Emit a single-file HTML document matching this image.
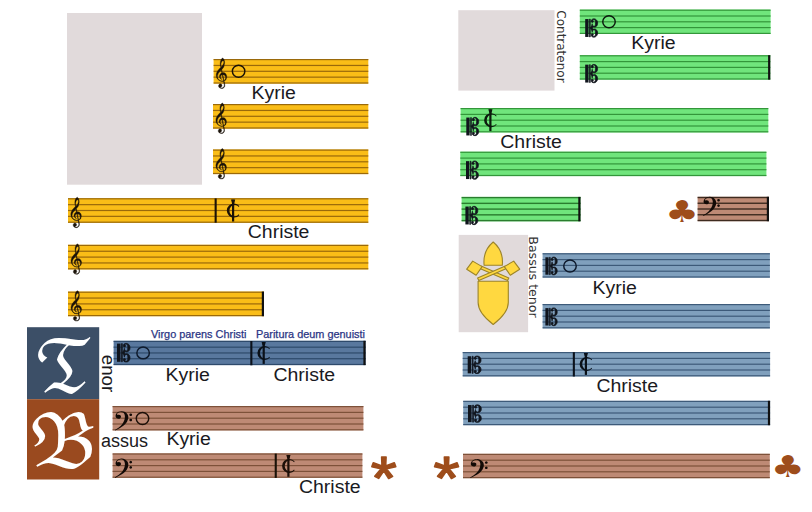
<!DOCTYPE html>
<html lang="la">
<head>
<meta charset="utf-8">
<title>Kyrie – Christe: Tenor, Bassus, Contratenor, Bassus tenor</title>
<style>
html,body{margin:0;padding:0;background:#fff;}
body{width:812px;height:512px;overflow:hidden;font-family:"Liberation Sans",sans-serif;}
svg{display:block;}
</style>
</head>
<body>
<svg width="812" height="512" viewBox="0 0 812 512">
<rect x="67" y="13" width="135" height="171.7" fill="#e1dadb"/>
<rect x="458.3" y="10.2" width="96.2" height="80.4" fill="#e1dadb"/>
<rect x="458.7" y="234.9" width="69.4" height="97.3" fill="#e1dadb"/>
<rect x="27" y="327.2" width="72.2" height="72" fill="#3c4f67"/>
<rect x="27" y="399.2" width="72.2" height="80.3" fill="#9a4a1f"/>
<rect x="213.6" y="59" width="154.7" height="24.6" fill="#fabd17"/>
<rect x="213.6" y="59.0" width="154.7" height="1.2" fill="#9a690a"/>
<rect x="213.6" y="64.85" width="154.7" height="1.2" fill="#9a690a"/>
<rect x="213.6" y="70.7" width="154.7" height="1.2" fill="#9a690a"/>
<rect x="213.6" y="76.55" width="154.7" height="1.2" fill="#9a690a"/>
<rect x="213.6" y="82.4" width="154.7" height="1.2" fill="#9a690a"/>
<path transform="translate(216.2,58.1)" d="M7.89 22.92Q8.64 25.6 8.64 27.31Q8.64 28.66 7.71 29.53Q6.78 30.4 5.45 30.4Q4.19 30.4 3.27 29.65Q2.34 28.89 2.34 27.82Q2.34 27.06 2.85 26.38Q3.37 25.7 4.11 25.7Q4.85 25.7 5.31 26.25Q5.78 26.8 5.78 27.52Q5.78 29.1 4.02 29.1Q4.47 29.81 5.48 29.81Q5.85 29.81 6.24 29.7Q6.63 29.58 7.06 29.3Q7.49 29.02 7.75 28.42Q8.01 27.82 8.01 26.98Q8.01 26.44 7.31 23.13Q6.76 23.28 5.93 23.28Q3.49 23.28 1.75 21.44Q0 19.6 0 17.05Q0 16.16 0.29 15.24Q0.58 14.32 0.94 13.62Q1.31 12.92 2.02 12.03Q2.74 11.15 3.23 10.63Q3.72 10.11 4.6 9.21Q4.02 7.12 4.02 5.39Q4.02 3.09 4.85 1.54Q5.68 0 6.51 0Q6.76 0 7.07 0.33Q7.38 0.66 7.69 1.25Q7.99 1.84 8.2 2.79Q8.41 3.75 8.41 4.85Q8.41 8.91 5.58 11.56L6.23 14.57Q6.63 14.5 6.96 14.5Q8.49 14.5 9.55 15.76Q10.6 17.03 10.6 18.84Q10.6 21.85 7.89 22.92ZM7.69 3.93Q7.69 2.53 6.88 2.53Q5.98 2.53 5.35 3.88Q4.72 5.23 4.72 6.89Q4.72 7.96 5.05 8.75Q6 8.17 6.84 6.65Q7.69 5.13 7.69 3.93ZM9.49 19.71Q9.49 18.3 8.69 17.46Q7.89 16.62 6.61 16.62L7.74 22.39Q9.49 21.65 9.49 19.71ZM7.21 22.54 6.05 16.67Q5.38 16.82 4.81 17.51Q4.25 18.2 4.25 18.94Q4.25 19.32 4.4 19.69Q4.55 20.06 4.76 20.32Q4.97 20.57 5.2 20.78Q5.43 20.98 5.58 21.07Q5.73 21.16 5.73 21.16L5.53 21.29Q4.7 21.06 3.96 20.27Q3.22 19.48 3.22 18.28Q3.22 17.08 3.96 16.07Q4.7 15.06 5.6 14.73L5.15 12Q1.21 15.34 1.21 18.45Q1.21 20.32 2.59 21.57Q3.97 22.82 5.73 22.82Q6.15 22.82 7.21 22.54Z" fill="#1a1208" stroke="#1a1208" stroke-width="0.35"/>
<ellipse cx="238.6" cy="71.2" rx="6.25" ry="5.95" fill="none" stroke="#1a1208" stroke-width="1.45"/>
<rect x="213" y="104" width="155.3" height="24.6" fill="#fabd17"/>
<rect x="213" y="104.0" width="155.3" height="1.2" fill="#9a690a"/>
<rect x="213" y="109.85" width="155.3" height="1.2" fill="#9a690a"/>
<rect x="213" y="115.7" width="155.3" height="1.2" fill="#9a690a"/>
<rect x="213" y="121.55" width="155.3" height="1.2" fill="#9a690a"/>
<rect x="213" y="127.4" width="155.3" height="1.2" fill="#9a690a"/>
<path transform="translate(215.9,103.1)" d="M7.89 22.92Q8.64 25.6 8.64 27.31Q8.64 28.66 7.71 29.53Q6.78 30.4 5.45 30.4Q4.19 30.4 3.27 29.65Q2.34 28.89 2.34 27.82Q2.34 27.06 2.85 26.38Q3.37 25.7 4.11 25.7Q4.85 25.7 5.31 26.25Q5.78 26.8 5.78 27.52Q5.78 29.1 4.02 29.1Q4.47 29.81 5.48 29.81Q5.85 29.81 6.24 29.7Q6.63 29.58 7.06 29.3Q7.49 29.02 7.75 28.42Q8.01 27.82 8.01 26.98Q8.01 26.44 7.31 23.13Q6.76 23.28 5.93 23.28Q3.49 23.28 1.75 21.44Q0 19.6 0 17.05Q0 16.16 0.29 15.24Q0.58 14.32 0.94 13.62Q1.31 12.92 2.02 12.03Q2.74 11.15 3.23 10.63Q3.72 10.11 4.6 9.21Q4.02 7.12 4.02 5.39Q4.02 3.09 4.85 1.54Q5.68 0 6.51 0Q6.76 0 7.07 0.33Q7.38 0.66 7.69 1.25Q7.99 1.84 8.2 2.79Q8.41 3.75 8.41 4.85Q8.41 8.91 5.58 11.56L6.23 14.57Q6.63 14.5 6.96 14.5Q8.49 14.5 9.55 15.76Q10.6 17.03 10.6 18.84Q10.6 21.85 7.89 22.92ZM7.69 3.93Q7.69 2.53 6.88 2.53Q5.98 2.53 5.35 3.88Q4.72 5.23 4.72 6.89Q4.72 7.96 5.05 8.75Q6 8.17 6.84 6.65Q7.69 5.13 7.69 3.93ZM9.49 19.71Q9.49 18.3 8.69 17.46Q7.89 16.62 6.61 16.62L7.74 22.39Q9.49 21.65 9.49 19.71ZM7.21 22.54 6.05 16.67Q5.38 16.82 4.81 17.51Q4.25 18.2 4.25 18.94Q4.25 19.32 4.4 19.69Q4.55 20.06 4.76 20.32Q4.97 20.57 5.2 20.78Q5.43 20.98 5.58 21.07Q5.73 21.16 5.73 21.16L5.53 21.29Q4.7 21.06 3.96 20.27Q3.22 19.48 3.22 18.28Q3.22 17.08 3.96 16.07Q4.7 15.06 5.6 14.73L5.15 12Q1.21 15.34 1.21 18.45Q1.21 20.32 2.59 21.57Q3.97 22.82 5.73 22.82Q6.15 22.82 7.21 22.54Z" fill="#1a1208" stroke="#1a1208" stroke-width="0.35"/>
<rect x="213" y="149.5" width="155.3" height="24.6" fill="#fabd17"/>
<rect x="213" y="149.5" width="155.3" height="1.2" fill="#9a690a"/>
<rect x="213" y="155.35" width="155.3" height="1.2" fill="#9a690a"/>
<rect x="213" y="161.2" width="155.3" height="1.2" fill="#9a690a"/>
<rect x="213" y="167.05" width="155.3" height="1.2" fill="#9a690a"/>
<rect x="213" y="172.9" width="155.3" height="1.2" fill="#9a690a"/>
<path transform="translate(215.9,148.6)" d="M7.89 22.92Q8.64 25.6 8.64 27.31Q8.64 28.66 7.71 29.53Q6.78 30.4 5.45 30.4Q4.19 30.4 3.27 29.65Q2.34 28.89 2.34 27.82Q2.34 27.06 2.85 26.38Q3.37 25.7 4.11 25.7Q4.85 25.7 5.31 26.25Q5.78 26.8 5.78 27.52Q5.78 29.1 4.02 29.1Q4.47 29.81 5.48 29.81Q5.85 29.81 6.24 29.7Q6.63 29.58 7.06 29.3Q7.49 29.02 7.75 28.42Q8.01 27.82 8.01 26.98Q8.01 26.44 7.31 23.13Q6.76 23.28 5.93 23.28Q3.49 23.28 1.75 21.44Q0 19.6 0 17.05Q0 16.16 0.29 15.24Q0.58 14.32 0.94 13.62Q1.31 12.92 2.02 12.03Q2.74 11.15 3.23 10.63Q3.72 10.11 4.6 9.21Q4.02 7.12 4.02 5.39Q4.02 3.09 4.85 1.54Q5.68 0 6.51 0Q6.76 0 7.07 0.33Q7.38 0.66 7.69 1.25Q7.99 1.84 8.2 2.79Q8.41 3.75 8.41 4.85Q8.41 8.91 5.58 11.56L6.23 14.57Q6.63 14.5 6.96 14.5Q8.49 14.5 9.55 15.76Q10.6 17.03 10.6 18.84Q10.6 21.85 7.89 22.92ZM7.69 3.93Q7.69 2.53 6.88 2.53Q5.98 2.53 5.35 3.88Q4.72 5.23 4.72 6.89Q4.72 7.96 5.05 8.75Q6 8.17 6.84 6.65Q7.69 5.13 7.69 3.93ZM9.49 19.71Q9.49 18.3 8.69 17.46Q7.89 16.62 6.61 16.62L7.74 22.39Q9.49 21.65 9.49 19.71ZM7.21 22.54 6.05 16.67Q5.38 16.82 4.81 17.51Q4.25 18.2 4.25 18.94Q4.25 19.32 4.4 19.69Q4.55 20.06 4.76 20.32Q4.97 20.57 5.2 20.78Q5.43 20.98 5.58 21.07Q5.73 21.16 5.73 21.16L5.53 21.29Q4.7 21.06 3.96 20.27Q3.22 19.48 3.22 18.28Q3.22 17.08 3.96 16.07Q4.7 15.06 5.6 14.73L5.15 12Q1.21 15.34 1.21 18.45Q1.21 20.32 2.59 21.57Q3.97 22.82 5.73 22.82Q6.15 22.82 7.21 22.54Z" fill="#1a1208" stroke="#1a1208" stroke-width="0.35"/>
<rect x="68" y="198.2" width="300.3" height="24.6" fill="#fabd17"/>
<rect x="68" y="198.2" width="300.3" height="1.2" fill="#9a690a"/>
<rect x="68" y="204.05" width="300.3" height="1.2" fill="#9a690a"/>
<rect x="68" y="209.9" width="300.3" height="1.2" fill="#9a690a"/>
<rect x="68" y="215.75" width="300.3" height="1.2" fill="#9a690a"/>
<rect x="68" y="221.6" width="300.3" height="1.2" fill="#9a690a"/>
<path transform="translate(70.8,197.3)" d="M7.89 22.92Q8.64 25.6 8.64 27.31Q8.64 28.66 7.71 29.53Q6.78 30.4 5.45 30.4Q4.19 30.4 3.27 29.65Q2.34 28.89 2.34 27.82Q2.34 27.06 2.85 26.38Q3.37 25.7 4.11 25.7Q4.85 25.7 5.31 26.25Q5.78 26.8 5.78 27.52Q5.78 29.1 4.02 29.1Q4.47 29.81 5.48 29.81Q5.85 29.81 6.24 29.7Q6.63 29.58 7.06 29.3Q7.49 29.02 7.75 28.42Q8.01 27.82 8.01 26.98Q8.01 26.44 7.31 23.13Q6.76 23.28 5.93 23.28Q3.49 23.28 1.75 21.44Q0 19.6 0 17.05Q0 16.16 0.29 15.24Q0.58 14.32 0.94 13.62Q1.31 12.92 2.02 12.03Q2.74 11.15 3.23 10.63Q3.72 10.11 4.6 9.21Q4.02 7.12 4.02 5.39Q4.02 3.09 4.85 1.54Q5.68 0 6.51 0Q6.76 0 7.07 0.33Q7.38 0.66 7.69 1.25Q7.99 1.84 8.2 2.79Q8.41 3.75 8.41 4.85Q8.41 8.91 5.58 11.56L6.23 14.57Q6.63 14.5 6.96 14.5Q8.49 14.5 9.55 15.76Q10.6 17.03 10.6 18.84Q10.6 21.85 7.89 22.92ZM7.69 3.93Q7.69 2.53 6.88 2.53Q5.98 2.53 5.35 3.88Q4.72 5.23 4.72 6.89Q4.72 7.96 5.05 8.75Q6 8.17 6.84 6.65Q7.69 5.13 7.69 3.93ZM9.49 19.71Q9.49 18.3 8.69 17.46Q7.89 16.62 6.61 16.62L7.74 22.39Q9.49 21.65 9.49 19.71ZM7.21 22.54 6.05 16.67Q5.38 16.82 4.81 17.51Q4.25 18.2 4.25 18.94Q4.25 19.32 4.4 19.69Q4.55 20.06 4.76 20.32Q4.97 20.57 5.2 20.78Q5.43 20.98 5.58 21.07Q5.73 21.16 5.73 21.16L5.53 21.29Q4.7 21.06 3.96 20.27Q3.22 19.48 3.22 18.28Q3.22 17.08 3.96 16.07Q4.7 15.06 5.6 14.73L5.15 12Q1.21 15.34 1.21 18.45Q1.21 20.32 2.59 21.57Q3.97 22.82 5.73 22.82Q6.15 22.82 7.21 22.54Z" fill="#1a1208" stroke="#1a1208" stroke-width="0.35"/>
<rect x="214.6" y="198.4" width="2.1" height="24.3" fill="#1a1208"/>
<g transform="translate(233.1,210.6)" fill="#1a1208"><rect x="-1.1" y="-10.8" width="2.2" height="21.7"/><path d="M-2.1,-11H2.1L1.1,-7.4H-1.1Z"/><path d="M6.2,-4.55A7.1,7 0 1 0 6.2,4.55L5.7,3.7A5.34,5.7 0 1 1 5.7,-3.7Z"/></g>
<rect x="68" y="244.8" width="300.3" height="24.6" fill="#fabd17"/>
<rect x="68" y="244.8" width="300.3" height="1.2" fill="#9a690a"/>
<rect x="68" y="250.65" width="300.3" height="1.2" fill="#9a690a"/>
<rect x="68" y="256.5" width="300.3" height="1.2" fill="#9a690a"/>
<rect x="68" y="262.35" width="300.3" height="1.2" fill="#9a690a"/>
<rect x="68" y="268.2" width="300.3" height="1.2" fill="#9a690a"/>
<path transform="translate(71,243.9)" d="M7.89 22.92Q8.64 25.6 8.64 27.31Q8.64 28.66 7.71 29.53Q6.78 30.4 5.45 30.4Q4.19 30.4 3.27 29.65Q2.34 28.89 2.34 27.82Q2.34 27.06 2.85 26.38Q3.37 25.7 4.11 25.7Q4.85 25.7 5.31 26.25Q5.78 26.8 5.78 27.52Q5.78 29.1 4.02 29.1Q4.47 29.81 5.48 29.81Q5.85 29.81 6.24 29.7Q6.63 29.58 7.06 29.3Q7.49 29.02 7.75 28.42Q8.01 27.82 8.01 26.98Q8.01 26.44 7.31 23.13Q6.76 23.28 5.93 23.28Q3.49 23.28 1.75 21.44Q0 19.6 0 17.05Q0 16.16 0.29 15.24Q0.58 14.32 0.94 13.62Q1.31 12.92 2.02 12.03Q2.74 11.15 3.23 10.63Q3.72 10.11 4.6 9.21Q4.02 7.12 4.02 5.39Q4.02 3.09 4.85 1.54Q5.68 0 6.51 0Q6.76 0 7.07 0.33Q7.38 0.66 7.69 1.25Q7.99 1.84 8.2 2.79Q8.41 3.75 8.41 4.85Q8.41 8.91 5.58 11.56L6.23 14.57Q6.63 14.5 6.96 14.5Q8.49 14.5 9.55 15.76Q10.6 17.03 10.6 18.84Q10.6 21.85 7.89 22.92ZM7.69 3.93Q7.69 2.53 6.88 2.53Q5.98 2.53 5.35 3.88Q4.72 5.23 4.72 6.89Q4.72 7.96 5.05 8.75Q6 8.17 6.84 6.65Q7.69 5.13 7.69 3.93ZM9.49 19.71Q9.49 18.3 8.69 17.46Q7.89 16.62 6.61 16.62L7.74 22.39Q9.49 21.65 9.49 19.71ZM7.21 22.54 6.05 16.67Q5.38 16.82 4.81 17.51Q4.25 18.2 4.25 18.94Q4.25 19.32 4.4 19.69Q4.55 20.06 4.76 20.32Q4.97 20.57 5.2 20.78Q5.43 20.98 5.58 21.07Q5.73 21.16 5.73 21.16L5.53 21.29Q4.7 21.06 3.96 20.27Q3.22 19.48 3.22 18.28Q3.22 17.08 3.96 16.07Q4.7 15.06 5.6 14.73L5.15 12Q1.21 15.34 1.21 18.45Q1.21 20.32 2.59 21.57Q3.97 22.82 5.73 22.82Q6.15 22.82 7.21 22.54Z" fill="#1a1208" stroke="#1a1208" stroke-width="0.35"/>
<rect x="68" y="291.6" width="196" height="24.6" fill="#fabd17"/>
<rect x="68" y="291.6" width="196" height="1.2" fill="#9a690a"/>
<rect x="68" y="297.45" width="196" height="1.2" fill="#9a690a"/>
<rect x="68" y="303.3" width="196" height="1.2" fill="#9a690a"/>
<rect x="68" y="309.15" width="196" height="1.2" fill="#9a690a"/>
<rect x="68" y="315.0" width="196" height="1.2" fill="#9a690a"/>
<rect x="261.8" y="291.6" width="2.2" height="24.6" fill="#111"/>
<path transform="translate(71,290.7)" d="M7.89 22.92Q8.64 25.6 8.64 27.31Q8.64 28.66 7.71 29.53Q6.78 30.4 5.45 30.4Q4.19 30.4 3.27 29.65Q2.34 28.89 2.34 27.82Q2.34 27.06 2.85 26.38Q3.37 25.7 4.11 25.7Q4.85 25.7 5.31 26.25Q5.78 26.8 5.78 27.52Q5.78 29.1 4.02 29.1Q4.47 29.81 5.48 29.81Q5.85 29.81 6.24 29.7Q6.63 29.58 7.06 29.3Q7.49 29.02 7.75 28.42Q8.01 27.82 8.01 26.98Q8.01 26.44 7.31 23.13Q6.76 23.28 5.93 23.28Q3.49 23.28 1.75 21.44Q0 19.6 0 17.05Q0 16.16 0.29 15.24Q0.58 14.32 0.94 13.62Q1.31 12.92 2.02 12.03Q2.74 11.15 3.23 10.63Q3.72 10.11 4.6 9.21Q4.02 7.12 4.02 5.39Q4.02 3.09 4.85 1.54Q5.68 0 6.51 0Q6.76 0 7.07 0.33Q7.38 0.66 7.69 1.25Q7.99 1.84 8.2 2.79Q8.41 3.75 8.41 4.85Q8.41 8.91 5.58 11.56L6.23 14.57Q6.63 14.5 6.96 14.5Q8.49 14.5 9.55 15.76Q10.6 17.03 10.6 18.84Q10.6 21.85 7.89 22.92ZM7.69 3.93Q7.69 2.53 6.88 2.53Q5.98 2.53 5.35 3.88Q4.72 5.23 4.72 6.89Q4.72 7.96 5.05 8.75Q6 8.17 6.84 6.65Q7.69 5.13 7.69 3.93ZM9.49 19.71Q9.49 18.3 8.69 17.46Q7.89 16.62 6.61 16.62L7.74 22.39Q9.49 21.65 9.49 19.71ZM7.21 22.54 6.05 16.67Q5.38 16.82 4.81 17.51Q4.25 18.2 4.25 18.94Q4.25 19.32 4.4 19.69Q4.55 20.06 4.76 20.32Q4.97 20.57 5.2 20.78Q5.43 20.98 5.58 21.07Q5.73 21.16 5.73 21.16L5.53 21.29Q4.7 21.06 3.96 20.27Q3.22 19.48 3.22 18.28Q3.22 17.08 3.96 16.07Q4.7 15.06 5.6 14.73L5.15 12Q1.21 15.34 1.21 18.45Q1.21 20.32 2.59 21.57Q3.97 22.82 5.73 22.82Q6.15 22.82 7.21 22.54Z" fill="#1a1208" stroke="#1a1208" stroke-width="0.35"/>
<text transform="translate(251.5,98.6) scale(1.025,1)" font-family="'Liberation Sans',sans-serif" font-size="19" fill="#1a1a1e">Kyrie</text>
<text transform="translate(247.8,237.6) scale(1.025,1)" font-family="'Liberation Sans',sans-serif" font-size="19" fill="#1a1a1e">Christe</text>
<rect x="113.6" y="340.8" width="252.0" height="24.3" fill="#59789e"/>
<rect x="113.6" y="340.8" width="252.0" height="1.2" fill="#2e4a6b"/>
<rect x="113.6" y="346.57" width="252.0" height="1.2" fill="#2e4a6b"/>
<rect x="113.6" y="352.35" width="252.0" height="1.2" fill="#2e4a6b"/>
<rect x="113.6" y="358.12" width="252.0" height="1.2" fill="#2e4a6b"/>
<rect x="113.6" y="363.9" width="252.0" height="1.2" fill="#2e4a6b"/>
<rect x="363.4" y="340.8" width="2.2" height="24.3" fill="#111"/>
<g transform="translate(117,343.4)" fill="#10141c"><rect x="0" y="0.2" width="3.51" height="18.2"/><path transform="translate(1.66,0) scale(0.915,1)" d="M3.24 18.42V0.22H3.92V9.14Q4.25 8.97 4.62 8.48Q4.99 7.99 5.32 7.34Q5.65 6.7 5.89 6.05Q6.13 5.41 6.18 4.91Q6.37 6.17 6.94 6.89Q7.51 7.61 8.33 7.61Q9.16 7.61 9.57 6.93Q9.99 6.26 9.99 4.31Q9.99 3.53 9.94 2.98Q9.9 2.42 9.79 2.07Q9.55 1.27 9.03 0.94Q8.52 0.6 7.73 0.6Q7.3 0.6 7.06 0.77Q6.83 0.95 6.83 1.11Q6.83 1.24 6.95 1.42Q7.08 1.6 7.23 1.78Q7.54 2.15 7.54 2.46Q7.54 2.89 7.22 3.25Q6.9 3.6 6.29 3.6Q5.74 3.6 5.38 3.21Q5.02 2.82 5.02 2.27Q5.02 1.6 5.47 1.09Q5.92 0.58 6.65 0.29Q7.38 0 8.22 0Q9.4 0 10.34 0.55Q11.28 1.09 11.84 2.06Q12.4 3.02 12.4 4.28Q12.4 5.06 12.23 5.71Q12.05 6.37 11.68 6.9Q11.19 7.59 10.41 7.98Q9.64 8.37 8.78 8.37Q8.37 8.37 7.94 8.27Q7.51 8.17 7.12 7.97L6.26 9.32L7.12 10.66Q7.54 10.5 7.98 10.41Q8.43 10.32 8.87 10.32Q9.88 10.32 10.68 10.88Q11.48 11.45 11.94 12.38Q12.4 13.3 12.4 14.43Q12.4 15.56 11.85 16.52Q11.3 17.47 10.36 18.04Q9.42 18.6 8.22 18.6Q6.68 18.6 5.85 17.99Q5.02 17.38 5.02 16.33Q5.02 15.78 5.38 15.39Q5.74 15 6.29 15Q6.9 15 7.22 15.35Q7.54 15.71 7.54 16.14Q7.54 16.49 7.23 16.82Q7.06 17 6.95 17.16Q6.83 17.33 6.83 17.47Q6.83 17.69 7.06 17.84Q7.3 18 7.73 18Q8.87 18 9.45 17.17Q10.03 16.34 10.03 14.43Q10.03 12.76 9.64 11.89Q9.25 11.03 8.33 11.03Q7.49 11.03 6.94 11.74Q6.38 12.45 6.22 13.69Q6.05 12.79 5.7 11.96Q5.35 11.12 4.89 10.46Q4.43 9.81 3.92 9.46V18.42Z" stroke="#10141c" stroke-width="0.8"/></g>
<ellipse cx="143.1" cy="352.9" rx="6.25" ry="5.95" fill="none" stroke="#0e1a2c" stroke-width="1.45"/>
<rect x="250.3" y="341.0" width="2.1" height="24.3" fill="#0c121c"/>
<g transform="translate(263.7,353.0)" fill="#0a1018"><rect x="-1.1" y="-10.8" width="2.2" height="21.7"/><path d="M-2.1,-11H2.1L1.1,-7.4H-1.1Z"/><path d="M6.2,-4.55A7.1,7 0 1 0 6.2,4.55L5.7,3.7A5.34,5.7 0 1 1 5.7,-3.7Z"/></g>
<text transform="translate(151,337.5) scale(1.0,1)" font-family="'Liberation Sans',sans-serif" font-size="10.9" fill="#2b3584" stroke="#2b3584" stroke-width="0.25">Virgo parens Christi</text>
<text transform="translate(256,337.5) scale(1.0,1)" font-family="'Liberation Sans',sans-serif" font-size="10.9" fill="#2b3584" stroke="#2b3584" stroke-width="0.25">Paritura deum genuisti</text>
<text transform="translate(165.6,381) scale(1.025,1)" font-family="'Liberation Sans',sans-serif" font-size="19" fill="#1a1a1e">Kyrie</text>
<text transform="translate(273.5,381.2) scale(1.025,1)" font-family="'Liberation Sans',sans-serif" font-size="19" fill="#1a1a1e">Christe</text>
<g aria-label="Tenor"><text transform="translate(64,392)" text-anchor="middle" font-family="'DejaVu Math TeX Gyre','DejaVu Serif',serif" font-size="70" fill="#fff">𝔗</text>
<text transform="translate(101.6,354.7) rotate(90) scale(1.0,1)" font-family="'Liberation Sans',sans-serif" font-size="18.8" fill="#1a1a1e">enor</text>
</g>
<rect x="112.6" y="406" width="250.8" height="24.4" fill="#be8a75"/>
<rect x="112.6" y="406.0" width="250.8" height="1.2" fill="#7d5139"/>
<rect x="112.6" y="411.8" width="250.8" height="1.2" fill="#7d5139"/>
<rect x="112.6" y="417.6" width="250.8" height="1.2" fill="#7d5139"/>
<rect x="112.6" y="423.4" width="250.8" height="1.2" fill="#7d5139"/>
<rect x="112.6" y="429.2" width="250.8" height="1.2" fill="#7d5139"/>
<path transform="translate(114.9,411.2)" d="M0 18.77Q4.13 16.16 5.92 14.47Q7.11 13.33 8.03 11.87Q8.95 10.41 9.48 8.79Q10.02 7.17 10.02 5.58Q10.02 4.15 9.57 3.06Q9.12 1.96 8.28 1.33Q7.43 0.7 6.26 0.7Q5.82 0.7 5.33 0.8Q4.85 0.89 4.32 1.09Q3.26 1.47 2.68 2.09Q2.11 2.71 2.11 3.26Q2.11 3.48 2.31 3.57Q2.51 3.67 2.68 3.67Q2.93 3.67 3.31 3.57Q3.48 3.53 3.64 3.5Q3.8 3.48 3.98 3.48Q4.92 3.48 5.52 4.02Q6.11 4.57 6.11 5.46Q6.11 6.33 5.37 6.96Q4.62 7.58 3.6 7.58Q2.39 7.58 1.52 6.84Q0.65 6.09 0.65 4.9Q0.65 3.48 1.47 2.37Q2.29 1.26 3.69 0.63Q5.1 0 6.81 0Q8.7 0 10.19 0.8Q11.68 1.59 12.56 2.98Q13.45 4.37 13.45 6.14Q13.45 8.43 12.13 10.53Q11.46 11.62 10.6 12.58Q9.74 13.55 8.43 14.55Q7.11 15.56 5.12 16.72Q3.13 17.87 0.17 19.3ZM15.83 2.2Q16.4 2.2 16.8 2.58Q17.2 2.97 17.2 3.53Q17.2 4.08 16.8 4.46Q16.4 4.83 15.83 4.83Q15.26 4.83 14.86 4.46Q14.47 4.08 14.47 3.53Q14.47 2.97 14.86 2.58Q15.26 2.2 15.83 2.2ZM15.83 7.51Q16.4 7.51 16.8 7.9Q17.2 8.29 17.2 8.84Q17.2 9.4 16.8 9.77Q16.4 10.15 15.83 10.15Q15.26 10.15 14.86 9.77Q14.47 9.4 14.47 8.84Q14.47 8.29 14.86 7.9Q15.26 7.51 15.83 7.51Z" fill="#120a06"/>
<ellipse cx="142.5" cy="418.5" rx="6.25" ry="5.95" fill="none" stroke="#1c0f08" stroke-width="1.45"/>
<rect x="112.6" y="453.4" width="249.8" height="24.4" fill="#be8a75"/>
<rect x="112.6" y="453.4" width="249.8" height="1.2" fill="#7d5139"/>
<rect x="112.6" y="459.2" width="249.8" height="1.2" fill="#7d5139"/>
<rect x="112.6" y="465.0" width="249.8" height="1.2" fill="#7d5139"/>
<rect x="112.6" y="470.8" width="249.8" height="1.2" fill="#7d5139"/>
<rect x="112.6" y="476.6" width="249.8" height="1.2" fill="#7d5139"/>
<path transform="translate(114.9,458.6)" d="M0 18.77Q4.13 16.16 5.92 14.47Q7.11 13.33 8.03 11.87Q8.95 10.41 9.48 8.79Q10.02 7.17 10.02 5.58Q10.02 4.15 9.57 3.06Q9.12 1.96 8.28 1.33Q7.43 0.7 6.26 0.7Q5.82 0.7 5.33 0.8Q4.85 0.89 4.32 1.09Q3.26 1.47 2.68 2.09Q2.11 2.71 2.11 3.26Q2.11 3.48 2.31 3.57Q2.51 3.67 2.68 3.67Q2.93 3.67 3.31 3.57Q3.48 3.53 3.64 3.5Q3.8 3.48 3.98 3.48Q4.92 3.48 5.52 4.02Q6.11 4.57 6.11 5.46Q6.11 6.33 5.37 6.96Q4.62 7.58 3.6 7.58Q2.39 7.58 1.52 6.84Q0.65 6.09 0.65 4.9Q0.65 3.48 1.47 2.37Q2.29 1.26 3.69 0.63Q5.1 0 6.81 0Q8.7 0 10.19 0.8Q11.68 1.59 12.56 2.98Q13.45 4.37 13.45 6.14Q13.45 8.43 12.13 10.53Q11.46 11.62 10.6 12.58Q9.74 13.55 8.43 14.55Q7.11 15.56 5.12 16.72Q3.13 17.87 0.17 19.3ZM15.83 2.2Q16.4 2.2 16.8 2.58Q17.2 2.97 17.2 3.53Q17.2 4.08 16.8 4.46Q16.4 4.83 15.83 4.83Q15.26 4.83 14.86 4.46Q14.47 4.08 14.47 3.53Q14.47 2.97 14.86 2.58Q15.26 2.2 15.83 2.2ZM15.83 7.51Q16.4 7.51 16.8 7.9Q17.2 8.29 17.2 8.84Q17.2 9.4 16.8 9.77Q16.4 10.15 15.83 10.15Q15.26 10.15 14.86 9.77Q14.47 9.4 14.47 8.84Q14.47 8.29 14.86 7.9Q15.26 7.51 15.83 7.51Z" fill="#120a06"/>
<rect x="274.7" y="453.6" width="2.1" height="24.3" fill="#1a1208"/>
<g transform="translate(288.4,465.9)" fill="#1c0f08"><rect x="-1.1" y="-10.8" width="2.2" height="21.7"/><path d="M-2.1,-11H2.1L1.1,-7.4H-1.1Z"/><path d="M6.2,-4.55A7.1,7 0 1 0 6.2,4.55L5.7,3.7A5.34,5.7 0 1 1 5.7,-3.7Z"/></g>
<g aria-label="Bassus"><text transform="translate(63,466.5)" text-anchor="middle" font-family="'DejaVu Math TeX Gyre','DejaVu Serif',serif" font-size="69.5" fill="#fff">𝔅</text>
<text transform="translate(101,447) scale(1.0,1)" font-family="'Liberation Sans',sans-serif" font-size="18" fill="#1a1a1e">assus</text>
</g>
<text transform="translate(166.4,444.9) scale(1.025,1)" font-family="'Liberation Sans',sans-serif" font-size="19" fill="#1a1a1e">Kyrie</text>
<text transform="translate(299,493.2) scale(1.025,1)" font-family="'Liberation Sans',sans-serif" font-size="19" fill="#1a1a1e">Christe</text>
<text transform="translate(383.8,498.5) scale(1.08,1)" text-anchor="middle" font-family="'Liberation Sans',sans-serif" font-size="62" fill="#9e4d1b" stroke="#9e4d1b" stroke-width="1.5" stroke-linejoin="round">*</text>
<text transform="translate(446.5,498.5) scale(1.08,1)" text-anchor="middle" font-family="'Liberation Sans',sans-serif" font-size="62" fill="#9e4d1b" stroke="#9e4d1b" stroke-width="1.5" stroke-linejoin="round">*</text>
<rect x="579.8" y="9.6" width="190.8" height="24.4" fill="#70e57c"/>
<rect x="579.8" y="9.6" width="190.8" height="1.2" fill="#33963a"/>
<rect x="579.8" y="15.4" width="190.8" height="1.2" fill="#33963a"/>
<rect x="579.8" y="21.2" width="190.8" height="1.2" fill="#33963a"/>
<rect x="579.8" y="27.0" width="190.8" height="1.2" fill="#33963a"/>
<rect x="579.8" y="32.8" width="190.8" height="1.2" fill="#33963a"/>
<g transform="translate(585.2,18.85)" fill="#10141c"><rect x="0" y="0.2" width="3.35" height="17.9"/><path transform="translate(1.57,0) scale(0.873,1)" d="M3.24 18.12V0.21H3.92V8.99Q4.25 8.83 4.62 8.34Q4.99 7.86 5.32 7.23Q5.65 6.59 5.89 5.95Q6.13 5.32 6.18 4.83Q6.37 6.07 6.94 6.78Q7.51 7.48 8.33 7.48Q9.16 7.48 9.57 6.82Q9.99 6.16 9.99 4.24Q9.99 3.47 9.94 2.93Q9.9 2.38 9.79 2.04Q9.55 1.25 9.03 0.92Q8.52 0.59 7.73 0.59Q7.3 0.59 7.06 0.76Q6.83 0.93 6.83 1.09Q6.83 1.22 6.95 1.4Q7.08 1.58 7.23 1.75Q7.54 2.11 7.54 2.42Q7.54 2.85 7.22 3.2Q6.9 3.55 6.29 3.55Q5.74 3.55 5.38 3.16Q5.02 2.78 5.02 2.24Q5.02 1.58 5.47 1.07Q5.92 0.57 6.65 0.29Q7.38 0 8.22 0Q9.4 0 10.34 0.54Q11.28 1.07 11.84 2.02Q12.4 2.97 12.4 4.21Q12.4 4.98 12.23 5.62Q12.05 6.27 11.68 6.79Q11.19 7.47 10.41 7.85Q9.64 8.24 8.78 8.24Q8.37 8.24 7.94 8.14Q7.51 8.04 7.12 7.84L6.26 9.17L7.12 10.49Q7.54 10.33 7.98 10.24Q8.43 10.15 8.87 10.15Q9.88 10.15 10.68 10.71Q11.48 11.26 11.94 12.18Q12.4 13.09 12.4 14.2Q12.4 15.31 11.85 16.25Q11.3 17.19 10.36 17.74Q9.42 18.3 8.22 18.3Q6.68 18.3 5.85 17.7Q5.02 17.1 5.02 16.06Q5.02 15.52 5.38 15.14Q5.74 14.75 6.29 14.75Q6.9 14.75 7.22 15.1Q7.54 15.45 7.54 15.88Q7.54 16.22 7.23 16.55Q7.06 16.72 6.95 16.89Q6.83 17.05 6.83 17.19Q6.83 17.4 7.06 17.56Q7.3 17.71 7.73 17.71Q8.87 17.71 9.45 16.89Q10.03 16.08 10.03 14.2Q10.03 12.55 9.64 11.7Q9.25 10.85 8.33 10.85Q7.49 10.85 6.94 11.55Q6.38 12.25 6.22 13.47Q6.05 12.59 5.7 11.76Q5.35 10.94 4.89 10.3Q4.43 9.65 3.92 9.31V18.12Z" stroke="#10141c" stroke-width="0.8"/></g>
<ellipse cx="609" cy="21.8" rx="6.25" ry="5.95" fill="none" stroke="#0c1a0e" stroke-width="1.45"/>
<rect x="579.8" y="55.2" width="190.5" height="24.4" fill="#70e57c"/>
<rect x="579.8" y="55.2" width="190.5" height="1.2" fill="#33963a"/>
<rect x="579.8" y="61.0" width="190.5" height="1.2" fill="#33963a"/>
<rect x="579.8" y="66.8" width="190.5" height="1.2" fill="#33963a"/>
<rect x="579.8" y="72.6" width="190.5" height="1.2" fill="#33963a"/>
<rect x="579.8" y="78.4" width="190.5" height="1.2" fill="#33963a"/>
<rect x="768.1" y="55.2" width="2.2" height="24.4" fill="#111"/>
<g transform="translate(585.2,64.45)" fill="#10141c"><rect x="0" y="0.2" width="3.35" height="17.9"/><path transform="translate(1.57,0) scale(0.873,1)" d="M3.24 18.12V0.21H3.92V8.99Q4.25 8.83 4.62 8.34Q4.99 7.86 5.32 7.23Q5.65 6.59 5.89 5.95Q6.13 5.32 6.18 4.83Q6.37 6.07 6.94 6.78Q7.51 7.48 8.33 7.48Q9.16 7.48 9.57 6.82Q9.99 6.16 9.99 4.24Q9.99 3.47 9.94 2.93Q9.9 2.38 9.79 2.04Q9.55 1.25 9.03 0.92Q8.52 0.59 7.73 0.59Q7.3 0.59 7.06 0.76Q6.83 0.93 6.83 1.09Q6.83 1.22 6.95 1.4Q7.08 1.58 7.23 1.75Q7.54 2.11 7.54 2.42Q7.54 2.85 7.22 3.2Q6.9 3.55 6.29 3.55Q5.74 3.55 5.38 3.16Q5.02 2.78 5.02 2.24Q5.02 1.58 5.47 1.07Q5.92 0.57 6.65 0.29Q7.38 0 8.22 0Q9.4 0 10.34 0.54Q11.28 1.07 11.84 2.02Q12.4 2.97 12.4 4.21Q12.4 4.98 12.23 5.62Q12.05 6.27 11.68 6.79Q11.19 7.47 10.41 7.85Q9.64 8.24 8.78 8.24Q8.37 8.24 7.94 8.14Q7.51 8.04 7.12 7.84L6.26 9.17L7.12 10.49Q7.54 10.33 7.98 10.24Q8.43 10.15 8.87 10.15Q9.88 10.15 10.68 10.71Q11.48 11.26 11.94 12.18Q12.4 13.09 12.4 14.2Q12.4 15.31 11.85 16.25Q11.3 17.19 10.36 17.74Q9.42 18.3 8.22 18.3Q6.68 18.3 5.85 17.7Q5.02 17.1 5.02 16.06Q5.02 15.52 5.38 15.14Q5.74 14.75 6.29 14.75Q6.9 14.75 7.22 15.1Q7.54 15.45 7.54 15.88Q7.54 16.22 7.23 16.55Q7.06 16.72 6.95 16.89Q6.83 17.05 6.83 17.19Q6.83 17.4 7.06 17.56Q7.3 17.71 7.73 17.71Q8.87 17.71 9.45 16.89Q10.03 16.08 10.03 14.2Q10.03 12.55 9.64 11.7Q9.25 10.85 8.33 10.85Q7.49 10.85 6.94 11.55Q6.38 12.25 6.22 13.47Q6.05 12.59 5.7 11.76Q5.35 10.94 4.89 10.3Q4.43 9.65 3.92 9.31V18.12Z" stroke="#10141c" stroke-width="0.8"/></g>
<rect x="460.6" y="108" width="307.7" height="24.4" fill="#70e57c"/>
<rect x="460.6" y="108.0" width="307.7" height="1.2" fill="#33963a"/>
<rect x="460.6" y="113.8" width="307.7" height="1.2" fill="#33963a"/>
<rect x="460.6" y="119.6" width="307.7" height="1.2" fill="#33963a"/>
<rect x="460.6" y="125.4" width="307.7" height="1.2" fill="#33963a"/>
<rect x="460.6" y="131.2" width="307.7" height="1.2" fill="#33963a"/>
<g transform="translate(466.3,117.35)" fill="#10141c"><rect x="0" y="0.2" width="3.35" height="17.9"/><path transform="translate(1.57,0) scale(0.873,1)" d="M3.24 18.12V0.21H3.92V8.99Q4.25 8.83 4.62 8.34Q4.99 7.86 5.32 7.23Q5.65 6.59 5.89 5.95Q6.13 5.32 6.18 4.83Q6.37 6.07 6.94 6.78Q7.51 7.48 8.33 7.48Q9.16 7.48 9.57 6.82Q9.99 6.16 9.99 4.24Q9.99 3.47 9.94 2.93Q9.9 2.38 9.79 2.04Q9.55 1.25 9.03 0.92Q8.52 0.59 7.73 0.59Q7.3 0.59 7.06 0.76Q6.83 0.93 6.83 1.09Q6.83 1.22 6.95 1.4Q7.08 1.58 7.23 1.75Q7.54 2.11 7.54 2.42Q7.54 2.85 7.22 3.2Q6.9 3.55 6.29 3.55Q5.74 3.55 5.38 3.16Q5.02 2.78 5.02 2.24Q5.02 1.58 5.47 1.07Q5.92 0.57 6.65 0.29Q7.38 0 8.22 0Q9.4 0 10.34 0.54Q11.28 1.07 11.84 2.02Q12.4 2.97 12.4 4.21Q12.4 4.98 12.23 5.62Q12.05 6.27 11.68 6.79Q11.19 7.47 10.41 7.85Q9.64 8.24 8.78 8.24Q8.37 8.24 7.94 8.14Q7.51 8.04 7.12 7.84L6.26 9.17L7.12 10.49Q7.54 10.33 7.98 10.24Q8.43 10.15 8.87 10.15Q9.88 10.15 10.68 10.71Q11.48 11.26 11.94 12.18Q12.4 13.09 12.4 14.2Q12.4 15.31 11.85 16.25Q11.3 17.19 10.36 17.74Q9.42 18.3 8.22 18.3Q6.68 18.3 5.85 17.7Q5.02 17.1 5.02 16.06Q5.02 15.52 5.38 15.14Q5.74 14.75 6.29 14.75Q6.9 14.75 7.22 15.1Q7.54 15.45 7.54 15.88Q7.54 16.22 7.23 16.55Q7.06 16.72 6.95 16.89Q6.83 17.05 6.83 17.19Q6.83 17.4 7.06 17.56Q7.3 17.71 7.73 17.71Q8.87 17.71 9.45 16.89Q10.03 16.08 10.03 14.2Q10.03 12.55 9.64 11.7Q9.25 10.85 8.33 10.85Q7.49 10.85 6.94 11.55Q6.38 12.25 6.22 13.47Q6.05 12.59 5.7 11.76Q5.35 10.94 4.89 10.3Q4.43 9.65 3.92 9.31V18.12Z" stroke="#10141c" stroke-width="0.8"/></g>
<g transform="translate(490.4,120.2)" fill="#0c1a0e"><rect x="-1.1" y="-10.8" width="2.2" height="21.7"/><path d="M-2.1,-11H2.1L1.1,-7.4H-1.1Z"/><path d="M6.2,-4.55A7.1,7 0 1 0 6.2,4.55L5.7,3.7A5.34,5.7 0 1 1 5.7,-3.7Z"/></g>
<rect x="460.3" y="151.7" width="306.1" height="24.4" fill="#70e57c"/>
<rect x="460.3" y="151.7" width="306.1" height="1.2" fill="#33963a"/>
<rect x="460.3" y="157.5" width="306.1" height="1.2" fill="#33963a"/>
<rect x="460.3" y="163.3" width="306.1" height="1.2" fill="#33963a"/>
<rect x="460.3" y="169.1" width="306.1" height="1.2" fill="#33963a"/>
<rect x="460.3" y="174.9" width="306.1" height="1.2" fill="#33963a"/>
<g transform="translate(466,160.95)" fill="#10141c"><rect x="0" y="0.2" width="3.35" height="17.9"/><path transform="translate(1.57,0) scale(0.873,1)" d="M3.24 18.12V0.21H3.92V8.99Q4.25 8.83 4.62 8.34Q4.99 7.86 5.32 7.23Q5.65 6.59 5.89 5.95Q6.13 5.32 6.18 4.83Q6.37 6.07 6.94 6.78Q7.51 7.48 8.33 7.48Q9.16 7.48 9.57 6.82Q9.99 6.16 9.99 4.24Q9.99 3.47 9.94 2.93Q9.9 2.38 9.79 2.04Q9.55 1.25 9.03 0.92Q8.52 0.59 7.73 0.59Q7.3 0.59 7.06 0.76Q6.83 0.93 6.83 1.09Q6.83 1.22 6.95 1.4Q7.08 1.58 7.23 1.75Q7.54 2.11 7.54 2.42Q7.54 2.85 7.22 3.2Q6.9 3.55 6.29 3.55Q5.74 3.55 5.38 3.16Q5.02 2.78 5.02 2.24Q5.02 1.58 5.47 1.07Q5.92 0.57 6.65 0.29Q7.38 0 8.22 0Q9.4 0 10.34 0.54Q11.28 1.07 11.84 2.02Q12.4 2.97 12.4 4.21Q12.4 4.98 12.23 5.62Q12.05 6.27 11.68 6.79Q11.19 7.47 10.41 7.85Q9.64 8.24 8.78 8.24Q8.37 8.24 7.94 8.14Q7.51 8.04 7.12 7.84L6.26 9.17L7.12 10.49Q7.54 10.33 7.98 10.24Q8.43 10.15 8.87 10.15Q9.88 10.15 10.68 10.71Q11.48 11.26 11.94 12.18Q12.4 13.09 12.4 14.2Q12.4 15.31 11.85 16.25Q11.3 17.19 10.36 17.74Q9.42 18.3 8.22 18.3Q6.68 18.3 5.85 17.7Q5.02 17.1 5.02 16.06Q5.02 15.52 5.38 15.14Q5.74 14.75 6.29 14.75Q6.9 14.75 7.22 15.1Q7.54 15.45 7.54 15.88Q7.54 16.22 7.23 16.55Q7.06 16.72 6.95 16.89Q6.83 17.05 6.83 17.19Q6.83 17.4 7.06 17.56Q7.3 17.71 7.73 17.71Q8.87 17.71 9.45 16.89Q10.03 16.08 10.03 14.2Q10.03 12.55 9.64 11.7Q9.25 10.85 8.33 10.85Q7.49 10.85 6.94 11.55Q6.38 12.25 6.22 13.47Q6.05 12.59 5.7 11.76Q5.35 10.94 4.89 10.3Q4.43 9.65 3.92 9.31V18.12Z" stroke="#10141c" stroke-width="0.8"/></g>
<rect x="461.6" y="196.9" width="118.9" height="24.4" fill="#70e57c"/>
<rect x="461.6" y="196.9" width="118.9" height="1.4" fill="#2a7d2e"/>
<rect x="461.6" y="202.65" width="118.9" height="1.4" fill="#2a7d2e"/>
<rect x="461.6" y="208.4" width="118.9" height="1.4" fill="#2a7d2e"/>
<rect x="461.6" y="214.15" width="118.9" height="1.4" fill="#2a7d2e"/>
<rect x="461.6" y="219.9" width="118.9" height="1.4" fill="#2a7d2e"/>
<rect x="578.3" y="196.9" width="2.2" height="24.4" fill="#111"/>
<g transform="translate(465.4,206.35)" fill="#10141c"><rect x="0" y="0.2" width="3.35" height="17.9"/><path transform="translate(1.57,0) scale(0.873,1)" d="M3.24 18.12V0.21H3.92V8.99Q4.25 8.83 4.62 8.34Q4.99 7.86 5.32 7.23Q5.65 6.59 5.89 5.95Q6.13 5.32 6.18 4.83Q6.37 6.07 6.94 6.78Q7.51 7.48 8.33 7.48Q9.16 7.48 9.57 6.82Q9.99 6.16 9.99 4.24Q9.99 3.47 9.94 2.93Q9.9 2.38 9.79 2.04Q9.55 1.25 9.03 0.92Q8.52 0.59 7.73 0.59Q7.3 0.59 7.06 0.76Q6.83 0.93 6.83 1.09Q6.83 1.22 6.95 1.4Q7.08 1.58 7.23 1.75Q7.54 2.11 7.54 2.42Q7.54 2.85 7.22 3.2Q6.9 3.55 6.29 3.55Q5.74 3.55 5.38 3.16Q5.02 2.78 5.02 2.24Q5.02 1.58 5.47 1.07Q5.92 0.57 6.65 0.29Q7.38 0 8.22 0Q9.4 0 10.34 0.54Q11.28 1.07 11.84 2.02Q12.4 2.97 12.4 4.21Q12.4 4.98 12.23 5.62Q12.05 6.27 11.68 6.79Q11.19 7.47 10.41 7.85Q9.64 8.24 8.78 8.24Q8.37 8.24 7.94 8.14Q7.51 8.04 7.12 7.84L6.26 9.17L7.12 10.49Q7.54 10.33 7.98 10.24Q8.43 10.15 8.87 10.15Q9.88 10.15 10.68 10.71Q11.48 11.26 11.94 12.18Q12.4 13.09 12.4 14.2Q12.4 15.31 11.85 16.25Q11.3 17.19 10.36 17.74Q9.42 18.3 8.22 18.3Q6.68 18.3 5.85 17.7Q5.02 17.1 5.02 16.06Q5.02 15.52 5.38 15.14Q5.74 14.75 6.29 14.75Q6.9 14.75 7.22 15.1Q7.54 15.45 7.54 15.88Q7.54 16.22 7.23 16.55Q7.06 16.72 6.95 16.89Q6.83 17.05 6.83 17.19Q6.83 17.4 7.06 17.56Q7.3 17.71 7.73 17.71Q8.87 17.71 9.45 16.89Q10.03 16.08 10.03 14.2Q10.03 12.55 9.64 11.7Q9.25 10.85 8.33 10.85Q7.49 10.85 6.94 11.55Q6.38 12.25 6.22 13.47Q6.05 12.59 5.7 11.76Q5.35 10.94 4.89 10.3Q4.43 9.65 3.92 9.31V18.12Z" stroke="#10141c" stroke-width="0.8"/></g>
<text transform="translate(631.3,48.9) scale(1.025,1)" font-family="'Liberation Sans',sans-serif" font-size="19" fill="#1a1a1e">Kyrie</text>
<text transform="translate(500.3,148.2) scale(1.025,1)" font-family="'Liberation Sans',sans-serif" font-size="19" fill="#1a1a1e">Christe</text>
<text transform="translate(557.3,10.3) rotate(90) scale(1.0,1)" font-family="'DejaVu Sans',sans-serif" font-size="12" fill="#333">Contratenor</text>
<rect x="697.6" y="196.8" width="71.4" height="24.4" fill="#be8a75"/>
<rect x="697.6" y="196.8" width="71.4" height="1.4" fill="#3e2b20"/>
<rect x="697.6" y="202.55" width="71.4" height="1.4" fill="#3e2b20"/>
<rect x="697.6" y="208.3" width="71.4" height="1.4" fill="#3e2b20"/>
<rect x="697.6" y="214.05" width="71.4" height="1.4" fill="#3e2b20"/>
<rect x="697.6" y="219.8" width="71.4" height="1.4" fill="#3e2b20"/>
<rect x="766.8" y="196.8" width="2.2" height="24.4" fill="#111"/>
<path transform="translate(702.9,196.8)" d="M0 18.67Q4.08 16.08 5.85 14.39Q7.03 13.26 7.93 11.81Q8.84 10.36 9.37 8.75Q9.9 7.14 9.9 5.55Q9.9 4.13 9.46 3.04Q9.02 1.95 8.18 1.32Q7.35 0.7 6.19 0.7Q5.75 0.7 5.27 0.79Q4.79 0.89 4.27 1.08Q3.22 1.47 2.65 2.08Q2.09 2.69 2.09 3.24Q2.09 3.46 2.28 3.56Q2.48 3.65 2.65 3.65Q2.9 3.65 3.27 3.56Q3.44 3.51 3.6 3.48Q3.76 3.46 3.93 3.46Q4.86 3.46 5.45 4Q6.04 4.54 6.04 5.43Q6.04 6.3 5.31 6.92Q4.57 7.55 3.56 7.55Q2.36 7.55 1.5 6.8Q0.64 6.06 0.64 4.88Q0.64 3.46 1.45 2.35Q2.26 1.25 3.65 0.62Q5.04 0 6.73 0Q8.6 0 10.07 0.79Q11.55 1.59 12.42 2.97Q13.29 4.35 13.29 6.1Q13.29 8.39 11.99 10.48Q11.33 11.56 10.48 12.52Q9.63 13.48 8.33 14.48Q7.03 15.48 5.06 16.63Q3.1 17.78 0.17 19.2ZM15.65 2.19Q16.21 2.19 16.61 2.57Q17 2.96 17 3.51Q17 4.06 16.61 4.43Q16.21 4.81 15.65 4.81Q15.08 4.81 14.69 4.43Q14.3 4.06 14.3 3.51Q14.3 2.96 14.69 2.57Q15.08 2.19 15.65 2.19ZM15.65 7.47Q16.21 7.47 16.61 7.86Q17 8.24 17 8.79Q17 9.35 16.61 9.72Q16.21 10.09 15.65 10.09Q15.08 10.09 14.69 9.72Q14.3 9.35 14.3 8.79Q14.3 8.24 14.69 7.86Q15.08 7.47 15.65 7.47Z" fill="#120a06"/>
<text transform="translate(682,221.8) scale(1.25,1)" text-anchor="middle" font-family="'DejaVu Sans',sans-serif" font-size="30" fill="#9e4d1b">♣</text>
<rect x="542.6" y="253.2" width="227.3" height="24.4" fill="#80a0bd"/>
<rect x="542.6" y="253.2" width="227.3" height="1.2" fill="#3d5a79"/>
<rect x="542.6" y="259.0" width="227.3" height="1.2" fill="#3d5a79"/>
<rect x="542.6" y="264.8" width="227.3" height="1.2" fill="#3d5a79"/>
<rect x="542.6" y="270.6" width="227.3" height="1.2" fill="#3d5a79"/>
<rect x="542.6" y="276.4" width="227.3" height="1.2" fill="#3d5a79"/>
<g transform="translate(545.4,257.1)" fill="#10141c"><rect x="0" y="0.2" width="3.19" height="17.4"/><path transform="translate(1.5,0) scale(0.831,1)" d="M3.24 17.63V0.21H3.92V8.74Q4.25 8.59 4.62 8.12Q4.99 7.65 5.32 7.03Q5.65 6.41 5.89 5.79Q6.13 5.17 6.18 4.7Q6.37 5.9 6.94 6.59Q7.51 7.28 8.33 7.28Q9.16 7.28 9.57 6.64Q9.99 5.99 9.99 4.13Q9.99 3.38 9.94 2.85Q9.9 2.32 9.79 1.99Q9.55 1.22 9.03 0.9Q8.52 0.57 7.73 0.57Q7.3 0.57 7.06 0.74Q6.83 0.91 6.83 1.06Q6.83 1.18 6.95 1.36Q7.08 1.53 7.23 1.71Q7.54 2.06 7.54 2.35Q7.54 2.77 7.22 3.11Q6.9 3.45 6.29 3.45Q5.74 3.45 5.38 3.07Q5.02 2.7 5.02 2.18Q5.02 1.53 5.47 1.05Q5.92 0.56 6.65 0.28Q7.38 0 8.22 0Q9.4 0 10.34 0.52Q11.28 1.05 11.84 1.97Q12.4 2.89 12.4 4.09Q12.4 4.84 12.23 5.47Q12.05 6.1 11.68 6.6Q11.19 7.26 10.41 7.64Q9.64 8.01 8.78 8.01Q8.37 8.01 7.94 7.92Q7.51 7.82 7.12 7.63L6.26 8.92L7.12 10.21Q7.54 10.05 7.98 9.96Q8.43 9.88 8.87 9.88Q9.88 9.88 10.68 10.42Q11.48 10.96 11.94 11.84Q12.4 12.73 12.4 13.81Q12.4 14.89 11.85 15.81Q11.3 16.72 10.36 17.26Q9.42 17.8 8.22 17.8Q6.68 17.8 5.85 17.22Q5.02 16.63 5.02 15.62Q5.02 15.1 5.38 14.73Q5.74 14.35 6.29 14.35Q6.9 14.35 7.22 14.69Q7.54 15.03 7.54 15.45Q7.54 15.78 7.23 16.09Q7.06 16.27 6.95 16.42Q6.83 16.58 6.83 16.72Q6.83 16.93 7.06 17.08Q7.3 17.23 7.73 17.23Q8.87 17.23 9.45 16.43Q10.03 15.64 10.03 13.81Q10.03 12.21 9.64 11.38Q9.25 10.55 8.33 10.55Q7.49 10.55 6.94 11.23Q6.38 11.91 6.22 13.1Q6.05 12.24 5.7 11.44Q5.35 10.64 4.89 10.01Q4.43 9.39 3.92 9.06V17.63Z" stroke="#10141c" stroke-width="0.8"/></g>
<ellipse cx="570" cy="266" rx="6.25" ry="5.95" fill="none" stroke="#0e1a2c" stroke-width="1.45"/>
<rect x="542.6" y="304" width="227.3" height="24.4" fill="#80a0bd"/>
<rect x="542.6" y="304.0" width="227.3" height="1.2" fill="#3d5a79"/>
<rect x="542.6" y="309.8" width="227.3" height="1.2" fill="#3d5a79"/>
<rect x="542.6" y="315.6" width="227.3" height="1.2" fill="#3d5a79"/>
<rect x="542.6" y="321.4" width="227.3" height="1.2" fill="#3d5a79"/>
<rect x="542.6" y="327.2" width="227.3" height="1.2" fill="#3d5a79"/>
<g transform="translate(545.4,307.9)" fill="#10141c"><rect x="0" y="0.2" width="3.19" height="17.4"/><path transform="translate(1.5,0) scale(0.831,1)" d="M3.24 17.63V0.21H3.92V8.74Q4.25 8.59 4.62 8.12Q4.99 7.65 5.32 7.03Q5.65 6.41 5.89 5.79Q6.13 5.17 6.18 4.7Q6.37 5.9 6.94 6.59Q7.51 7.28 8.33 7.28Q9.16 7.28 9.57 6.64Q9.99 5.99 9.99 4.13Q9.99 3.38 9.94 2.85Q9.9 2.32 9.79 1.99Q9.55 1.22 9.03 0.9Q8.52 0.57 7.73 0.57Q7.3 0.57 7.06 0.74Q6.83 0.91 6.83 1.06Q6.83 1.18 6.95 1.36Q7.08 1.53 7.23 1.71Q7.54 2.06 7.54 2.35Q7.54 2.77 7.22 3.11Q6.9 3.45 6.29 3.45Q5.74 3.45 5.38 3.07Q5.02 2.7 5.02 2.18Q5.02 1.53 5.47 1.05Q5.92 0.56 6.65 0.28Q7.38 0 8.22 0Q9.4 0 10.34 0.52Q11.28 1.05 11.84 1.97Q12.4 2.89 12.4 4.09Q12.4 4.84 12.23 5.47Q12.05 6.1 11.68 6.6Q11.19 7.26 10.41 7.64Q9.64 8.01 8.78 8.01Q8.37 8.01 7.94 7.92Q7.51 7.82 7.12 7.63L6.26 8.92L7.12 10.21Q7.54 10.05 7.98 9.96Q8.43 9.88 8.87 9.88Q9.88 9.88 10.68 10.42Q11.48 10.96 11.94 11.84Q12.4 12.73 12.4 13.81Q12.4 14.89 11.85 15.81Q11.3 16.72 10.36 17.26Q9.42 17.8 8.22 17.8Q6.68 17.8 5.85 17.22Q5.02 16.63 5.02 15.62Q5.02 15.1 5.38 14.73Q5.74 14.35 6.29 14.35Q6.9 14.35 7.22 14.69Q7.54 15.03 7.54 15.45Q7.54 15.78 7.23 16.09Q7.06 16.27 6.95 16.42Q6.83 16.58 6.83 16.72Q6.83 16.93 7.06 17.08Q7.3 17.23 7.73 17.23Q8.87 17.23 9.45 16.43Q10.03 15.64 10.03 13.81Q10.03 12.21 9.64 11.38Q9.25 10.55 8.33 10.55Q7.49 10.55 6.94 11.23Q6.38 11.91 6.22 13.1Q6.05 12.24 5.7 11.44Q5.35 10.64 4.89 10.01Q4.43 9.39 3.92 9.06V17.63Z" stroke="#10141c" stroke-width="0.8"/></g>
<rect x="462.7" y="352" width="307.4" height="24.4" fill="#80a0bd"/>
<rect x="462.7" y="352.0" width="307.4" height="1.2" fill="#3d5a79"/>
<rect x="462.7" y="357.8" width="307.4" height="1.2" fill="#3d5a79"/>
<rect x="462.7" y="363.6" width="307.4" height="1.2" fill="#3d5a79"/>
<rect x="462.7" y="369.4" width="307.4" height="1.2" fill="#3d5a79"/>
<rect x="462.7" y="375.2" width="307.4" height="1.2" fill="#3d5a79"/>
<g transform="translate(467.7,356.05)" fill="#10141c"><rect x="0" y="0.2" width="3.59" height="17.1"/><path transform="translate(1.69,0) scale(0.937,1)" d="M3.24 17.33V0.21H3.92V8.6Q4.25 8.44 4.62 7.98Q4.99 7.52 5.32 6.91Q5.65 6.3 5.89 5.69Q6.13 5.09 6.18 4.62Q6.37 5.8 6.94 6.48Q7.51 7.16 8.33 7.16Q9.16 7.16 9.57 6.52Q9.99 5.89 9.99 4.06Q9.99 3.32 9.94 2.8Q9.9 2.28 9.79 1.95Q9.55 1.2 9.03 0.88Q8.52 0.57 7.73 0.57Q7.3 0.57 7.06 0.73Q6.83 0.89 6.83 1.04Q6.83 1.16 6.95 1.34Q7.08 1.51 7.23 1.68Q7.54 2.02 7.54 2.31Q7.54 2.72 7.22 3.06Q6.9 3.39 6.29 3.39Q5.74 3.39 5.38 3.02Q5.02 2.65 5.02 2.14Q5.02 1.51 5.47 1.03Q5.92 0.55 6.65 0.27Q7.38 0 8.22 0Q9.4 0 10.34 0.51Q11.28 1.03 11.84 1.93Q12.4 2.84 12.4 4.02Q12.4 4.76 12.23 5.38Q12.05 5.99 11.68 6.49Q11.19 7.14 10.41 7.51Q9.64 7.88 8.78 7.88Q8.37 7.88 7.94 7.78Q7.51 7.69 7.12 7.5L6.26 8.77L7.12 10.03Q7.54 9.88 7.98 9.79Q8.43 9.71 8.87 9.71Q9.88 9.71 10.68 10.24Q11.48 10.77 11.94 11.64Q12.4 12.52 12.4 13.58Q12.4 14.64 11.85 15.54Q11.3 16.44 10.36 16.97Q9.42 17.5 8.22 17.5Q6.68 17.5 5.85 16.93Q5.02 16.35 5.02 15.36Q5.02 14.85 5.38 14.48Q5.74 14.11 6.29 14.11Q6.9 14.11 7.22 14.44Q7.54 14.78 7.54 15.19Q7.54 15.51 7.23 15.82Q7.06 15.99 6.95 16.15Q6.83 16.3 6.83 16.44Q6.83 16.64 7.06 16.79Q7.3 16.93 7.73 16.93Q8.87 16.93 9.45 16.16Q10.03 15.38 10.03 13.58Q10.03 12 9.64 11.19Q9.25 10.38 8.33 10.38Q7.49 10.38 6.94 11.04Q6.38 11.71 6.22 12.88Q6.05 12.04 5.7 11.25Q5.35 10.46 4.89 9.85Q4.43 9.23 3.92 8.9V17.33Z" stroke="#10141c" stroke-width="0.8"/></g>
<rect x="572.8" y="352.2" width="2.1" height="24.3" fill="#0c121c"/>
<g transform="translate(585.9,364.0)" fill="#0a1018"><rect x="-1.1" y="-10.8" width="2.2" height="21.7"/><path d="M-2.1,-11H2.1L1.1,-7.4H-1.1Z"/><path d="M6.2,-4.55A7.1,7 0 1 0 6.2,4.55L5.7,3.7A5.34,5.7 0 1 1 5.7,-3.7Z"/></g>
<rect x="463.2" y="400.8" width="306.9" height="24.4" fill="#80a0bd"/>
<rect x="463.2" y="400.8" width="306.9" height="1.2" fill="#3d5a79"/>
<rect x="463.2" y="406.6" width="306.9" height="1.2" fill="#3d5a79"/>
<rect x="463.2" y="412.4" width="306.9" height="1.2" fill="#3d5a79"/>
<rect x="463.2" y="418.2" width="306.9" height="1.2" fill="#3d5a79"/>
<rect x="463.2" y="424.0" width="306.9" height="1.2" fill="#3d5a79"/>
<rect x="767.9" y="400.8" width="2.2" height="24.4" fill="#111"/>
<g transform="translate(468,404.85)" fill="#10141c"><rect x="0" y="0.2" width="3.59" height="17.1"/><path transform="translate(1.69,0) scale(0.937,1)" d="M3.24 17.33V0.21H3.92V8.6Q4.25 8.44 4.62 7.98Q4.99 7.52 5.32 6.91Q5.65 6.3 5.89 5.69Q6.13 5.09 6.18 4.62Q6.37 5.8 6.94 6.48Q7.51 7.16 8.33 7.16Q9.16 7.16 9.57 6.52Q9.99 5.89 9.99 4.06Q9.99 3.32 9.94 2.8Q9.9 2.28 9.79 1.95Q9.55 1.2 9.03 0.88Q8.52 0.57 7.73 0.57Q7.3 0.57 7.06 0.73Q6.83 0.89 6.83 1.04Q6.83 1.16 6.95 1.34Q7.08 1.51 7.23 1.68Q7.54 2.02 7.54 2.31Q7.54 2.72 7.22 3.06Q6.9 3.39 6.29 3.39Q5.74 3.39 5.38 3.02Q5.02 2.65 5.02 2.14Q5.02 1.51 5.47 1.03Q5.92 0.55 6.65 0.27Q7.38 0 8.22 0Q9.4 0 10.34 0.51Q11.28 1.03 11.84 1.93Q12.4 2.84 12.4 4.02Q12.4 4.76 12.23 5.38Q12.05 5.99 11.68 6.49Q11.19 7.14 10.41 7.51Q9.64 7.88 8.78 7.88Q8.37 7.88 7.94 7.78Q7.51 7.69 7.12 7.5L6.26 8.77L7.12 10.03Q7.54 9.88 7.98 9.79Q8.43 9.71 8.87 9.71Q9.88 9.71 10.68 10.24Q11.48 10.77 11.94 11.64Q12.4 12.52 12.4 13.58Q12.4 14.64 11.85 15.54Q11.3 16.44 10.36 16.97Q9.42 17.5 8.22 17.5Q6.68 17.5 5.85 16.93Q5.02 16.35 5.02 15.36Q5.02 14.85 5.38 14.48Q5.74 14.11 6.29 14.11Q6.9 14.11 7.22 14.44Q7.54 14.78 7.54 15.19Q7.54 15.51 7.23 15.82Q7.06 15.99 6.95 16.15Q6.83 16.3 6.83 16.44Q6.83 16.64 7.06 16.79Q7.3 16.93 7.73 16.93Q8.87 16.93 9.45 16.16Q10.03 15.38 10.03 13.58Q10.03 12 9.64 11.19Q9.25 10.38 8.33 10.38Q7.49 10.38 6.94 11.04Q6.38 11.71 6.22 12.88Q6.05 12.04 5.7 11.25Q5.35 10.46 4.89 9.85Q4.43 9.23 3.92 8.9V17.33Z" stroke="#10141c" stroke-width="0.8"/></g>
<text transform="translate(592.6,293.6) scale(1.025,1)" font-family="'Liberation Sans',sans-serif" font-size="19" fill="#1a1a1e">Kyrie</text>
<text transform="translate(596.4,391.6) scale(1.025,1)" font-family="'Liberation Sans',sans-serif" font-size="19" fill="#1a1a1e">Christe</text>
<text transform="translate(529.3,236.3) rotate(90) scale(1.0,1)" font-family="'DejaVu Sans',sans-serif" font-size="12.55" fill="#333">Bassus tenor</text>
<g fill="#ffd840" stroke="#9c8428" stroke-width="1.1" stroke-linejoin="round"><path d="M484.1,265.2C483.2,256 486.5,247.5 493.2,242C499.9,247.5 503.2,256 502.3,265.2Z"/><path d="M479.9,268.6L507.6,280.6L508.8,278.0L481.1,266.0Z"/><path d="M505.3,266.0L477.6,278.0L478.8,280.6L506.5,268.6Z"/><path d="M472.7,261.1L466.7,269.2L476.1,275.2L482.1,266.6Z"/><path d="M513.7,261.1L519.7,269.2L510.3,275.2L504.3,266.6Z"/><path d="M478.1,281.2H508.3V302.5C508.3,311 501,318.5 493.2,324.5C485.4,318.5 478.1,311 478.1,302.5Z"/></g>
<rect x="463" y="453.8" width="306.8" height="24.4" fill="#be8a75"/>
<rect x="463" y="453.8" width="306.8" height="1.2" fill="#7d5139"/>
<rect x="463" y="459.6" width="306.8" height="1.2" fill="#7d5139"/>
<rect x="463" y="465.4" width="306.8" height="1.2" fill="#7d5139"/>
<rect x="463" y="471.2" width="306.8" height="1.2" fill="#7d5139"/>
<rect x="463" y="477.0" width="306.8" height="1.2" fill="#7d5139"/>
<path transform="translate(470.1,459.1)" d="M0 18.48Q4.22 15.91 6.05 14.24Q7.27 13.13 8.22 11.69Q9.16 10.25 9.7 8.66Q10.25 7.06 10.25 5.49Q10.25 4.09 9.79 3.01Q9.33 1.93 8.47 1.31Q7.6 0.69 6.41 0.69Q5.95 0.69 5.46 0.78Q4.96 0.88 4.43 1.07Q3.33 1.45 2.75 2.06Q2.16 2.66 2.16 3.21Q2.16 3.42 2.37 3.52Q2.57 3.61 2.75 3.61Q3 3.61 3.38 3.52Q3.56 3.47 3.73 3.45Q3.89 3.42 4.07 3.42Q5.04 3.42 5.65 3.96Q6.26 4.49 6.26 5.37Q6.26 6.23 5.49 6.85Q4.73 7.47 3.69 7.47Q2.44 7.47 1.55 6.73Q0.66 5.99 0.66 4.83Q0.66 3.42 1.5 2.33Q2.34 1.24 3.78 0.62Q5.21 0 6.97 0Q8.9 0 10.43 0.78Q11.95 1.57 12.86 2.94Q13.76 4.3 13.76 6.04Q13.76 8.3 12.41 10.37Q11.72 11.44 10.85 12.39Q9.97 13.34 8.62 14.33Q7.27 15.31 5.24 16.46Q3.2 17.6 0.18 19ZM16.2 2.16Q16.79 2.16 17.19 2.54Q17.6 2.92 17.6 3.47Q17.6 4.02 17.19 4.39Q16.79 4.76 16.2 4.76Q15.62 4.76 15.21 4.39Q14.8 4.02 14.8 3.47Q14.8 2.92 15.21 2.54Q15.62 2.16 16.2 2.16ZM16.2 7.4Q16.79 7.4 17.19 7.78Q17.6 8.16 17.6 8.7Q17.6 9.25 17.19 9.62Q16.79 9.99 16.2 9.99Q15.62 9.99 15.21 9.62Q14.8 9.25 14.8 8.7Q14.8 8.16 15.21 7.78Q15.62 7.4 16.2 7.4Z" fill="#120a06"/>
<text transform="translate(787.7,476.7) scale(1.25,1)" text-anchor="middle" font-family="'DejaVu Sans',sans-serif" font-size="30" fill="#9e4d1b">♣</text>
</svg>
</body>
</html>
